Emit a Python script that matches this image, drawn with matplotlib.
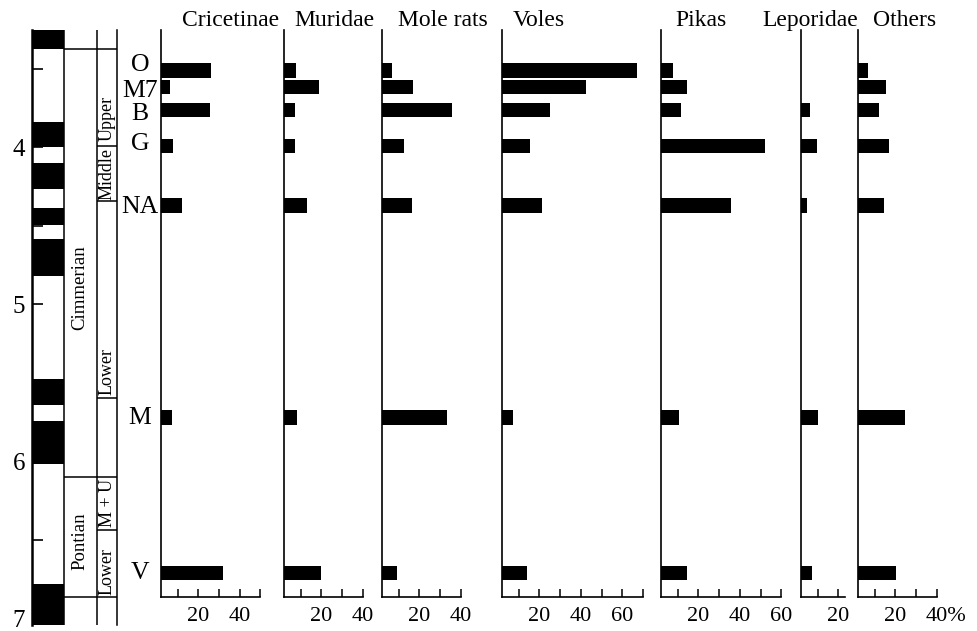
import matplotlib.pyplot as plt
from matplotlib.transforms import ScaledTranslation, blended_transform_factory

plt.rcParams['font.family'] = ['Liberation Serif', 'DejaVu Serif']

# fossil localities and their ages (Ma)
sites = ['O', 'M7', 'B', 'G', 'NA', 'M', 'V']
site_age = [3.513, 3.618, 3.764, 3.994, 4.373, 5.723, 6.715]
site_label_age = [3.478, 3.643, 3.787, 3.978, 4.379, 5.726, 6.713]

# share of each group in each locality, %
groups = ['Cricetinae', 'Muridae', 'Mole rats', 'Voles', 'Pikas', 'Leporidae', 'Others']
cricetinae = [26, 6.3, 25.5, 7.5, 12.2, 7.1, 32]
muridae = [7.6, 19, 7.2, 7.2, 12.9, 8, 19.8]
mole_rats = [7, 17, 35.6, 12.5, 16.5, 33.5, 9.3]
voles = [67, 42.5, 25.3, 15.5, 21.3, 7.4, 14.2]
pikas = [7.6, 14.6, 11.6, 52.2, 35.6, 10.8, 14.6]
leporidae = [0, 0, 6.3, 9.8, 5, 10.3, 7.4]
others = [6.9, 15.3, 12.2, 16.8, 14.5, 24.6, 20.1]
x_max = [50, 40, 40, 70, 60, 23, 40]
x_labels = [[20, 40], [20, 40], [20, 40], [20, 40, 60], [20, 40, 60], [20], [20, 40]]

# normal polarity chrons (black)
normal_top = [3.255, 3.841, 4.104, 4.390, 4.588, 5.480, 5.745, 6.785]
normal_base = [3.376, 3.998, 4.266, 4.497, 4.820, 5.643, 6.019, 7.045]

stages = ['Cimmerian', 'Pontian']
stage_bounds = [3.376, 6.100, 6.868]
stage_label_age = [4.898, 6.510]
substages = ['Upper', 'Middle', 'Lower', 'M + U', 'Lower']
substage_bounds = [3.992, 4.344, 5.601, 6.439]
substage_label_age = [3.818, 4.169, 5.427, 6.268, 6.701]

W, H = 977, 631
PX_MA, Y4 = 157.0, 147
TOP, BOT_BARS, BOT_COL = 3.255, 6.868, 7.045


def ypx(age):
    return Y4 + (age - 4) * PX_MA


fig = plt.figure(figsize=(W / 100, H / 100), dpi=100)

# stratigraphic column
y0 = 1 - ypx(BOT_COL) / H
ax = fig.add_axes([32 / W, y0, 85 / W, (ypx(BOT_COL) - ypx(TOP)) / H])
ax.set_xlim(0, 85)
ax.set_ylim(BOT_COL, TOP)
for t, b in zip(normal_top, normal_base):
    ax.axhspan(t, b, xmin=0, xmax=32 / 85, color='black', lw=0)
ax.axvline(32, color='black', lw=1.1)
ax.axvline(65, color='black', lw=1.1)
ax.hlines(stage_bounds, 32, 85, color='black', lw=1.1)
ax.hlines(substage_bounds, 65, 85, color='black', lw=1.1)
for s, a in zip(stages, stage_label_age):
    ax.text(48, a, s, rotation=90, ha='center', va='center', fontsize=13.5)
for s, a in zip(substages, substage_label_age):
    ax.text(75.5, a, s, rotation=90, ha='center', va='center', fontsize=13)
for sp in ['top', 'bottom']:
    ax.spines[sp].set_visible(False)
ax.spines['left'].set_linewidth(1.8)
ax.spines['right'].set_linewidth(1.1)
ax.set_xticks([])
ax.set_yticks([4, 5, 6, 7])
ax.set_yticks([3.5, 4.5, 5.5, 6.5], minor=True)
ax.tick_params(axis='y', which='both', direction='in', length=8, width=1.2,
               labelsize=18, pad=5, right=False)

# percentage panels
values = [cricetinae, muridae, mole_rats, voles, pikas, leporidae, others]
zero_px = [157, 280, 378, 498, 657, 797, 854]
head_px = [181.7, 294, 398, 513, 675, 762, 873]
S = 2.07
yb = 1 - ypx(BOT_BARS) / H
hb = (ypx(BOT_BARS) - ypx(TOP)) / H
axes = []
for i, name in enumerate(groups):
    a = fig.add_axes([(zero_px[i] + 2 * S) / W, yb, (x_max[i] - 2) * S / W, hb])
    a.barh(site_age, values[i], height=0.09, color='black', lw=0)
    a.set_xlim(2, x_max[i])
    a.set_ylim(BOT_BARS, TOP)
    a.spines['top'].set_visible(False)
    a.spines['right'].set_visible(False)
    a.spines['left'].set_linewidth(1.2)
    a.spines['bottom'].set_linewidth(1.2)
    a.set_yticks([])
    ticks = list(range(10, x_max[i] + 1, 10))
    labs = [str(t) if t in x_labels[i] else '' for t in ticks]
    if name == 'Others':
        labs[-1] = '40%'
    a.set_xticks(ticks)
    a.set_xticklabels(labs)
    a.tick_params(axis='x', direction='in', length=6, width=1.1, labelsize=16, pad=7)
    if name == 'Others':
        lab = a.get_xticklabels()[-1]
        lab.set_horizontalalignment('left')
        lab.set_transform(lab.get_transform() + ScaledTranslation(-0.11, 0, fig.dpi_scale_trans))
    fig.text(head_px[i] / W, 1 - 26 / H, name, ha='left', va='baseline', fontsize=17)
    axes.append(a)

# locality labels
tr = blended_transform_factory(fig.transFigure, axes[0].transData)
for s, a in zip(sites, site_label_age):
    fig.text(140 / W, a, s, transform=tr, ha='center', va='center', fontsize=18.5)

fig.savefig('out.png', dpi=100)
